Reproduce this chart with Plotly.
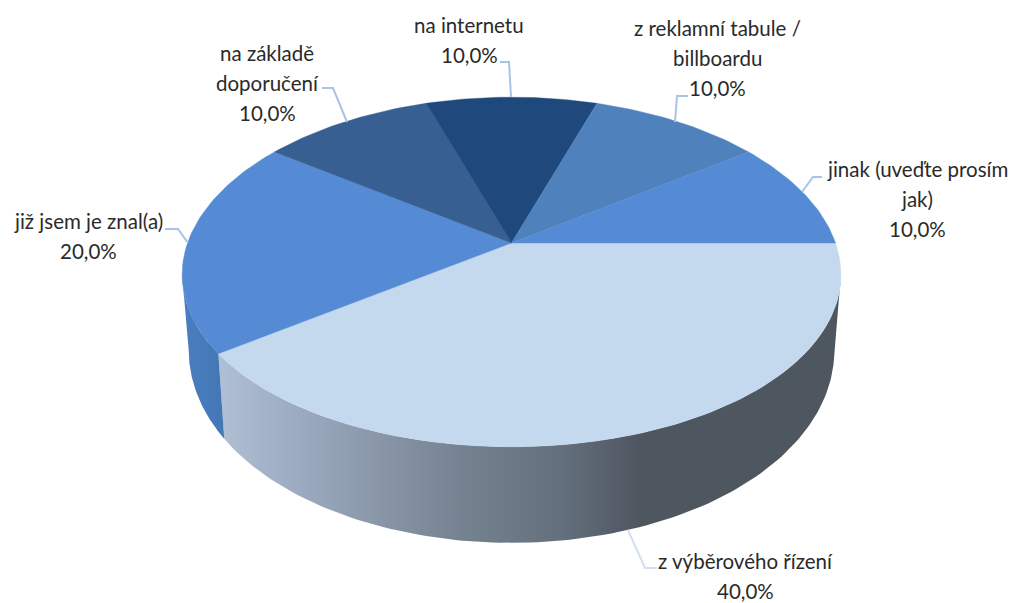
import math
import plotly.graph_objects as go

# --- data ---
categories = ["z výběrového řízení", "již jsem je znal(a)", "na základě doporučení",
              "na internetu", "z reklamní tabule / billboardu", "jinak (uveďte prosím jak)"]
values = [40, 20, 10, 10, 10, 10]
label_lines = [["z výběrového řízení"], ["již jsem je znal(a)"], ["na základě", "doporučení"],
               ["na internetu"], ["z reklamní tabule /", "billboardu"], ["jinak (uveďte prosím", "jak)"]]

# --- styles / layout ---
top_colors = ["#c4d8ee", "#558ad4", "#375f92", "#1f497d", "#4f81bd", "#558ad4"]
label_centers = [(745, 561), (88, 221), (267, 53), (469, 25), (717, 28), (917, 169)]
line_gap = 30
leaders = [[(628, 530), (645, 568), (657, 568)], [(165, 229), (178, 229), (188, 243)],
           [(322, 88), (333, 88), (347, 122)], [(500, 62), (509, 62), (511, 97)],
           [(688, 96), (677, 96), (675, 122)], [(822, 177), (813, 177), (802, 192)]]
leader_colors = ["#d3dff0", "#a9c2e6", "#a9c2e6", "#a9c2e6", "#a9c2e6", "#a9c2e6"]
FONT = "Lato"
FONT_SIZE = 20.5
TEXT = "#2a2a2a"

# projection of the pie plane onto the page
CX, CY, RX, A, P, PX = 511.5, 243.0, 324.0, 170.0, 0.1657, 0.18
BOT_XK, BOT_YK, BOT_OFF = 0.98, 1.118, 72.0

def top(theta):
    t = math.radians(theta)
    u, v = math.cos(t), math.sin(t)
    return CX + RX * u / (1 - PX * v), CY + A * v / (1 - P * v)

def bottom(theta):
    x, y = top(theta)
    return CX + (x - CX) * BOT_XK, CY + (y - CY) * BOT_YK + BOT_OFF

def grad(stops):
    return [[(x - stops[0][0]) / (stops[-1][0] - stops[0][0]), c] for x, c in stops]

grey_stops = [(219, "rgb(176,192,212)"), (300, "rgb(155,170,191)"), (470, "rgb(115,128,142)"),
              (560, "rgb(100,112,126)"), (640, "rgb(78,86,96)"), (845, "rgb(78,86,96)")]
blue_stops = [(183, "rgb(74,126,192)"), (226, "rgb(68,118,180)")]

fig = go.Figure()

total = sum(values)
bounds = [0.0]
for val in values:
    bounds.append(bounds[-1] + val / total * 360.0)

def wall(t0, t1, stops, n=120):
    angles = [t0 + (t1 - t0) * k / n for k in range(n + 1)]
    up = [top(a) for a in angles]
    dn = [bottom(a) for a in reversed(angles)]
    pts = up + dn + up[:1]
    fig.add_trace(go.Scatter(x=[p[0] for p in pts], y=[p[1] for p in pts], mode="lines", fill="toself",
                             line=dict(width=0), hoverinfo="skip", showlegend=False,
                             fillgradient=dict(type="horizontal", colorscale=grad(stops),
                                               start=stops[0][0], stop=stops[-1][0])))

edge = math.degrees(math.asin(PX))
wall(edge, bounds[1], grey_stops)
wall(bounds[1], 180 - edge, blue_stops)

# top faces
for i, val in enumerate(values):
    n = max(int(val * 3), 8)
    pts = [top(bounds[i] + (bounds[i + 1] - bounds[i]) * k / n) for k in range(n + 1)]
    xs = [CX] + [p[0] for p in pts] + [CX]
    ys = [CY] + [p[1] for p in pts] + [CY]
    fig.add_trace(go.Scatter(x=xs, y=ys, mode="lines", fill="toself", fillcolor=top_colors[i],
                             line=dict(color=top_colors[i], width=0.4), hoverinfo="skip", showlegend=False))

# leader lines
for pts, col in zip(leaders, leader_colors):
    fig.add_trace(go.Scatter(x=[p[0] for p in pts], y=[p[1] for p in pts], mode="lines",
                             line=dict(color=col, width=2), hoverinfo="skip", showlegend=False))

# labels
annotations = []
for lines, val, (cx, cy) in zip(label_lines, values, label_centers):
    pct = f"{val / total * 100:.1f}%".replace(".", ",")
    for j, txt in enumerate(lines + [pct]):
        annotations.append(dict(x=cx, y=cy + j * line_gap, text=txt, showarrow=False, xanchor="center",
                                yanchor="middle", xref="x", yref="y",
                                font=dict(family=FONT, size=FONT_SIZE, color=TEXT)))

fig.update_layout(width=1010, height=603, margin=dict(l=0, r=0, t=0, b=0),
                  paper_bgcolor="white", plot_bgcolor="white", showlegend=False,
                  xaxis=dict(range=[0, 1010], visible=False, fixedrange=True),
                  yaxis=dict(range=[603, 0], visible=False, fixedrange=True),
                  annotations=annotations)
fig.write_html("out.html", config={"displayModeBar": False},
               post_script="document.body.style.margin='0';document.body.style.overflow='hidden';")
